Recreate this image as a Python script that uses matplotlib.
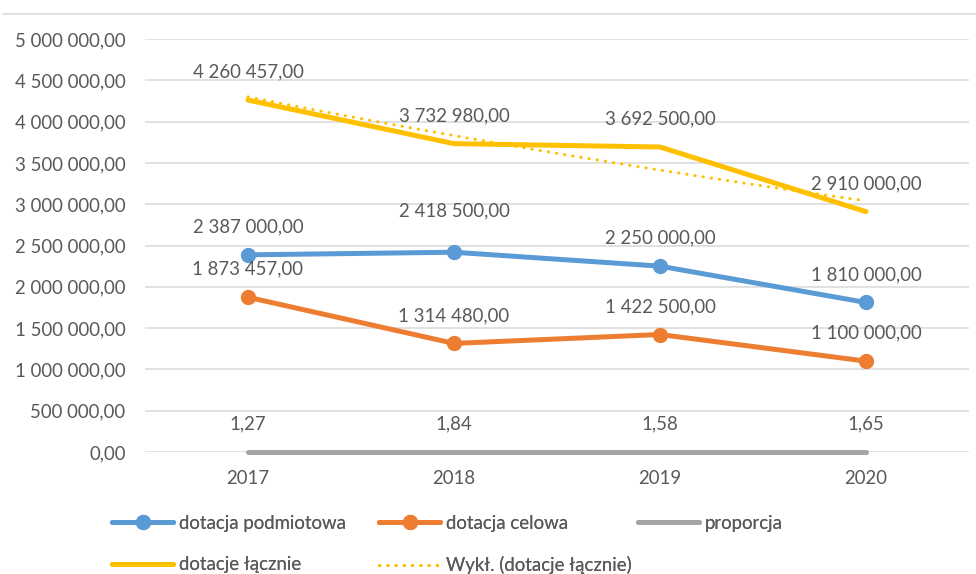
import numpy as np
import matplotlib
matplotlib.use('Agg')
import matplotlib.pyplot as plt
from matplotlib.lines import Line2D

plt.rcParams['font.family'] = ['Lato', 'DejaVu Sans']

years = ['2017', '2018', '2019', '2020']
podmiotowa = [2387000, 2418500, 2250000, 1810000]
celowa = [1873457, 1314480, 1422500, 1100000]
proporcja = [1.27, 1.84, 1.58, 1.65]
lacznie = [4260457, 3732980, 3692500, 2910000]

TXT = '#595959'
GRID = '#D9D9D9'
FS = 13.4


def fmt_pl(v):
    # format 1 234 567,00
    s = f'{v:,.2f}'
    return s.replace(',', ' ').replace('.', ',')


fig = plt.figure(figsize=(9.76, 5.74), dpi=100)
ax = fig.add_axes([145 / 976, 122 / 574, 824 / 976, 413 / 574])

x = np.arange(len(years))
lw = 3.6
ax.plot(x, podmiotowa, color='#5B9BD5', lw=lw, marker='o', ms=10,
        solid_capstyle='round', label='dotacja podmiotowa', zorder=3)
ax.plot(x, celowa, color='#ED7D31', lw=lw, marker='o', ms=10,
        solid_capstyle='round', label='dotacja celowa', zorder=3)
ax.plot(x, proporcja, color='#A5A5A5', lw=lw, clip_on=False,
        solid_capstyle='round', label='proporcja', zorder=3)
ax.plot(x, lacznie, color='#FFC000', lw=lw,
        solid_capstyle='round', label='dotacje łącznie', zorder=3)

# trendline wykładnicza (jak w Excelu)
b, a = np.polyfit(x, np.log(lacznie), 1)
xt = np.linspace(0, 3, 100)
ax.plot(xt, np.exp(a + b * xt), color='#FFC000', lw=2.2, ls=(0, (0.1, 2.6)),
        dash_capstyle='round', label='Wykł. (dotacje łącznie)', zorder=4)

# etykiety danych
nudge = {('podm', 1): 41}
for key, series, fmt in [('podm', podmiotowa, fmt_pl), ('cel', celowa, fmt_pl),
                         ('prop', proporcja, lambda v: f'{v:.2f}'.replace('.', ',')),
                         ('lacz', lacznie, fmt_pl)]:
    for i, v in enumerate(series):
        dy = nudge.get((key, i), 28)
        ax.annotate(fmt(v), (x[i], v), xytext=(0, dy * 0.72), textcoords='offset points',
                    ha='center', va='center', fontsize=FS, color=TXT, zorder=5)

ax.set_xlim(-0.5, 3.5)
ax.set_ylim(0, 5000000)
ax.set_yticks(np.arange(0, 5000001, 500000))
ax.set_yticklabels([fmt_pl(v) for v in np.arange(0, 5000001, 500000)])
ax.set_xticks(x)
ax.set_xticklabels(years)
ax.tick_params(length=0, labelsize=FS, labelcolor=TXT)
ax.tick_params(axis='y', pad=14)
ax.tick_params(axis='x', pad=13)
ax.grid(axis='y', color=GRID, lw=1.1, zorder=0)
ax.set_axisbelow(True)
for sp in ax.spines.values():
    sp.set_visible(False)

# linia u góry (ramka)
fig.add_artist(Line2D([3 / 976, 1], [1 - 14 / 574, 1 - 14 / 574], color=GRID, lw=1.1))

# legenda: kolumny jak w Excelu (osobna legenda na kolumnę)
h, l = ax.get_legend_handles_labels()
columns = [([0, 3], 112), ([1, 4], 379), ([2], 638)]
for idx, xpix in columns:
    leg = fig.legend([h[i] for i in idx], [l[i] for i in idx], loc='upper left',
                     bbox_to_anchor=(xpix / 976, 1 - 515 / 574),
                     frameon=False, fontsize=FS, labelcolor=TXT, handlelength=3.3,
                     handletextpad=0.3, labelspacing=1.3, borderaxespad=0,
                     borderpad=0)
    fig.add_artist(leg)

plt.savefig('out.png', dpi=100)
plt.close()
